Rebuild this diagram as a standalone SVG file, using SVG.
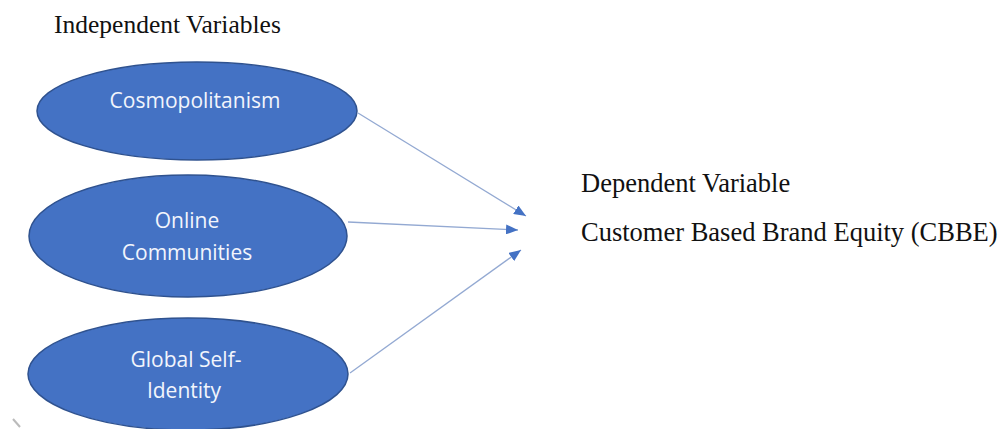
<svg xmlns="http://www.w3.org/2000/svg" width="1001" height="429" viewBox="0 0 1001 429">
<style>
.node ellipse{fill:#4472C4;stroke:#2F528F;stroke-width:1.5}
.node text{font-family:"Open Sans","Liberation Sans",sans-serif;font-size:21px;fill:#F2F5FC;text-anchor:middle}
.label{font-family:"Liberation Serif","Times New Roman",serif;font-size:26px;fill:#111}
.conn line{stroke:#93A9D2;stroke-width:1.3;fill:none}
</style>
<defs>
<marker id="arr" viewBox="0 0 12 10" refX="12" refY="5" markerWidth="12" markerHeight="10" markerUnits="userSpaceOnUse" orient="auto">
<path d="M0,0 L12,5 L0,10 Z" fill="#4472C4"/>
</marker>
</defs>
<rect width="1001" height="429" fill="#fff"/>
<text class="label" x="54" y="33" style="font-size:25.5px">Independent Variables</text>
<text class="label" x="581" y="192" style="font-size:26.5px">Dependent Variable</text>
<text class="label" x="581" y="241" style="font-size:26.5px">Customer Based Brand Equity (CBBE)</text>
<g id="connectors" class="conn">
<line x1="358" y1="113" x2="526" y2="216" marker-end="url(#arr)"/>
<line x1="348" y1="222" x2="518" y2="230" marker-end="url(#arr)"/>
<line x1="350" y1="373" x2="521" y2="250" marker-end="url(#arr)"/>
</g>
<g id="cosmopolitanism" class="node">
<ellipse cx="197" cy="111" rx="160" ry="49"/>
<text x="195" y="108">Cosmopolitanism</text>
</g>
<g id="online-communities" class="node">
<ellipse cx="188" cy="236" rx="159" ry="61"/>
<text x="187" y="228">Online</text>
<text x="187" y="260">Communities</text>
</g>
<g id="global-self-identity" class="node">
<ellipse cx="188" cy="374" rx="160" ry="56"/>
<text x="186" y="367">Global Self-</text>
<text x="184" y="398">Identity</text>
</g>
<line x1="13" y1="419" x2="20" y2="427" stroke="#BBBBBB" stroke-width="2"/>
</svg>
